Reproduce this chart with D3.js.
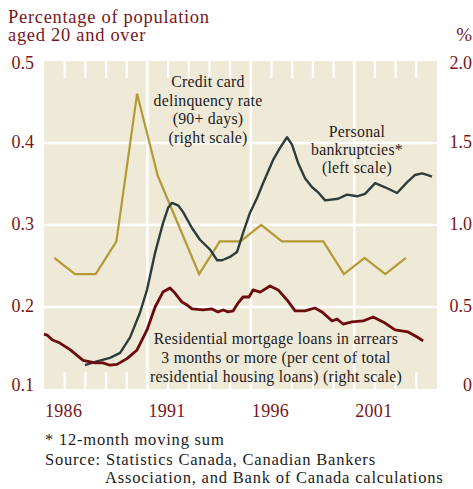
<!DOCTYPE html>
<html>
<head>
<meta charset="utf-8">
<script src="https://cdn.jsdelivr.net/npm/d3@7"></script>
<style>
  html, body { margin: 0; padding: 0; background: #ffffff; }
  svg { display: block; }
  text { font-family: "Liberation Serif", "DejaVu Serif", serif; }
</style>
</head>
<body>
<svg id="chart" width="473" height="489"></svg>
<script>
// ---- Data ----
const years = [1986, 1991, 1996, 2001];
const leftTicks = [0.1, 0.2, 0.3, 0.4, 0.5];
const rightTicks = [0, 0.5, 1.0, 1.5, 2.0];
const rightTickLabels = ["0", "0.5", "1.0", "1.5", "2.0"];

// Credit card delinquency rate (90+ days), annual, % (right scale)
const cardYears = [1986,1987,1988,1989,1990,1991,1992,1993,1994,1995,1996,1997,1998,1999,2000,2001,2002,2003];
const cardValues = [0.8,0.7,0.7,0.9,1.8,1.3,1.0,0.7,0.9,0.9,1.0,0.9,0.9,0.9,0.7,0.8,0.7,0.8];

// Personal bankruptcies, % of population aged 20+ (left scale)
const bankTime = [1987.98,1988.47,1989.19,1989.68,1990.16,1990.64,1990.98,1991.37,1991.75,1992.0,1992.19,1992.48,1992.72,1993.16,1993.54,1994.03,1994.37,1994.61,1994.99,1995.33,1995.62,1995.96,1996.30,1996.59,1997.07,1997.41,1997.75,1997.99,1998.28,1998.62,1998.96,1999.25,1999.59,2000.22,2000.65,2001.14,2001.52,2002.01,2002.49,2003.07,2003.55,2003.94,2004.28,2004.52,2004.76];
const bankValues = [0.129,0.133,0.138,0.144,0.163,0.193,0.221,0.266,0.302,0.321,0.327,0.324,0.316,0.296,0.282,0.270,0.257,0.257,0.261,0.267,0.290,0.315,0.333,0.351,0.379,0.394,0.407,0.398,0.376,0.357,0.346,0.340,0.330,0.332,0.337,0.335,0.338,0.351,0.346,0.339,0.352,0.361,0.363,0.361,0.359];

// Residential mortgage loans in arrears 3+ months, % of total (right scale)
const mortTime = [1986.0,1986.15,1986.39,1986.77,1987.26,1987.89,1988.47,1988.85,1989.19,1989.53,1990.01,1990.50,1990.98,1991.37,1991.75,1992.09,1992.33,1992.67,1992.92,1993.16,1993.69,1994.12,1994.41,1994.66,1994.90,1995.14,1995.38,1995.62,1995.91,1996.11,1996.45,1996.93,1997.32,1997.75,1998.14,1998.62,1999.10,1999.44,1999.93,2000.17,2000.46,2000.89,2001.43,2001.91,2002.49,2002.97,2003.60,2004.04,2004.33];
const mortValues = [0.335,0.329,0.300,0.280,0.240,0.175,0.159,0.159,0.145,0.150,0.185,0.238,0.360,0.500,0.591,0.616,0.585,0.530,0.512,0.488,0.482,0.488,0.470,0.482,0.470,0.476,0.524,0.561,0.561,0.604,0.591,0.628,0.604,0.543,0.476,0.476,0.494,0.470,0.415,0.427,0.396,0.409,0.415,0.439,0.402,0.360,0.348,0.317,0.293];

// ---- Layout ----
const svg = d3.select("#chart");
const plot = { left: 44, right: 437, top: 61, bottom: 389 };
const axisColor = "#7a1517";
const bg = "#efe9d7";

const x = d3.scaleLinear().domain([1986, 2005]).range([plot.left, plot.right]);
const yL = d3.scaleLinear().domain([0.1, 0.5]).range([plot.bottom, plot.top]);
const yR = d3.scaleLinear().domain([0, 2.0]).range([plot.bottom, plot.top]);

// background
svg.append("rect")
  .attr("x", plot.left).attr("y", plot.top)
  .attr("width", plot.right - plot.left).attr("height", plot.bottom - plot.top)
  .attr("fill", bg);

// horizontal grid lines
svg.append("g").selectAll("line")
  .data(leftTicks.filter(d => d > 0.1 && d < 0.5))
  .join("line")
  .attr("x1", plot.left).attr("x2", plot.right)
  .attr("y1", d => yL(d)).attr("y2", d => yL(d))
  .attr("stroke", "#ffffff").attr("stroke-width", 2.5);

// vertical full lines at labelled years
svg.append("g").selectAll("line")
  .data(years.filter(d => d > 1986))
  .join("line")
  .attr("x1", d => x(d)).attr("x2", d => x(d))
  .attr("y1", plot.top).attr("y2", plot.bottom)
  .attr("stroke", "#ffffff").attr("stroke-width", 2.5);

// yearly ticks at top and bottom
const tickYears = d3.range(1987, 2005).filter(d => !years.includes(d));
const tickG = svg.append("g");
tickG.selectAll("line.tb").data(tickYears).join("line").attr("class", "tb")
  .attr("x1", d => x(d)).attr("x2", d => x(d))
  .attr("y1", plot.bottom - 17).attr("y2", plot.bottom)
  .attr("stroke", "#ffffff").attr("stroke-width", 2.2);
tickG.selectAll("line.tt").data(tickYears).join("line").attr("class", "tt")
  .attr("x1", d => x(d)).attr("x2", d => x(d))
  .attr("y1", plot.top).attr("y2", plot.top + 17)
  .attr("stroke", "#ffffff").attr("stroke-width", 2.2);

// ---- Lines ----
const cardLine = d3.line().x(d => x(d[0] + 0.5)).y(d => yR(d[1]));
svg.append("path")
  .datum(d3.zip(cardYears, cardValues))
  .attr("d", cardLine)
  .attr("fill", "none").attr("stroke", "#b49a35").attr("stroke-width", 2.2)
  .attr("stroke-linejoin", "miter");

const bankLine = d3.line().x(d => x(d[0])).y(d => yL(d[1])).curve(d3.curveLinear);
svg.append("path")
  .datum(d3.zip(bankTime, bankValues))
  .attr("d", bankLine)
  .attr("fill", "none").attr("stroke", "#2e3d3a").attr("stroke-width", 2.4)
  .attr("stroke-linejoin", "round");

const mortLine = d3.line().x(d => x(d[0])).y(d => yR(d[1]));
svg.append("path")
  .datum(d3.zip(mortTime, mortValues))
  .attr("d", mortLine)
  .attr("fill", "none").attr("stroke", "#6d0a0c").attr("stroke-width", 2.8)
  .attr("stroke-linejoin", "round");

// ---- Axis labels ----
const fs = 18;
svg.append("g").selectAll("text").data(leftTicks).join("text")
  .attr("x", 34)
  .attr("y", d => Math.min(Math.max(yL(d) + 5, 69), 391))
  .attr("text-anchor", "end")
  .attr("fill", axisColor).attr("font-size", fs)
  .text(d => d.toFixed(1));

svg.append("g").selectAll("text").data(rightTicks).join("text")
  .attr("x", 472)
  .attr("y", d => Math.min(Math.max(yR(d) + 5, 69), 391))
  .attr("text-anchor", "end")
  .attr("fill", axisColor).attr("font-size", fs)
  .text((d, i) => rightTickLabels[i]);

svg.append("g").selectAll("text").data(years).join("text")
  .attr("x", d => x(d) + 1)
  .attr("y", 417)
  .attr("fill", axisColor).attr("font-size", fs).attr("letter-spacing", 0.3)
  .text(d => d);

// titles
const title = svg.append("text").attr("fill", axisColor).attr("font-size", 18.5).attr("letter-spacing", 0.7);
title.append("tspan").attr("x", 8).attr("y", 23).text("Percentage of population");
title.append("tspan").attr("x", 8).attr("y", 41).text("aged 20 and over");
svg.append("text").attr("x", 472).attr("y", 41).attr("text-anchor", "end")
  .attr("fill", axisColor).attr("font-size", 19).text("%");

// ---- Annotations ----
function block(lines, cx, y0, dy) {
  const t = svg.append("text").attr("fill", "#1c1c1c").attr("font-size", 15.8)
    .attr("letter-spacing", 0.25).attr("text-anchor", "middle");
  lines.forEach((s, i) => t.append("tspan").attr("x", cx).attr("y", y0 + i * dy).text(s));
}
block(["Credit card", "delinquency rate", "(90+ days)", "(right scale)"], 208, 87, 18.5);
block(["Personal", "bankruptcies*", "(left scale)"], 357, 137, 18);
block(["Residential mortgage loans in arrears", "3 months or more (per cent of total", "residential housing loans) (right scale)"], 276, 344, 19);

// ---- Footnotes ----
const foot = svg.append("text").attr("fill", "#1c1c1c").attr("font-size", 16.5).attr("letter-spacing", 0.8);
foot.append("tspan").attr("x", 45).attr("y", 445).text("* 12-month moving sum");
foot.append("tspan").attr("x", 45).attr("y", 465).text("Source: Statistics Canada, Canadian Bankers");
foot.append("tspan").attr("x", 105).attr("y", 483).text("Association, and Bank of Canada calculations");
</script>
</body>
</html>
